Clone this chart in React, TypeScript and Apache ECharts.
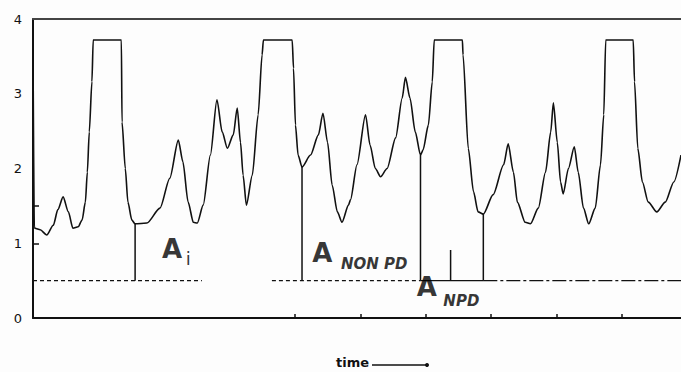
import React, { useEffect, useRef } from "react";
import * as echarts from "echarts";

// time axis positions of the traced signal
const timePoints = [
  0, 0.02, 0.03, 0.11, 0.21, 0.31, 0.38, 0.46, 0.54, 0.61, 0.69, 0.75, 0.8, 0.83, 0.86, 0.9, 0.92,
  1.35, 1.36, 1.41, 1.45, 1.51, 1.56, 1.74, 1.94, 2.09, 2.22, 2.29, 2.37, 2.45, 2.51, 2.6, 2.71,
  2.81, 2.89, 2.97, 3.06, 3.12, 3.17, 3.21, 3.26, 3.35, 3.44, 3.5, 3.52, 3.96, 3.98, 4.01, 4.05,
  4.11, 4.24, 4.36, 4.43, 4.5, 4.57, 4.65, 4.72, 4.82, 4.85, 4.95, 5.08, 5.15, 5.23, 5.31, 5.41,
  5.54, 5.64, 5.69, 5.76, 5.84, 5.92, 5.96, 6.04, 6.1, 6.13, 6.56, 6.57, 6.65, 6.73, 6.8, 6.88,
  7.03, 7.19, 7.26, 7.34, 7.4, 7.52, 7.6, 7.72, 7.83, 7.91, 7.95, 8.01, 8.06, 8.1, 8.18, 8.27,
  8.33, 8.41, 8.49, 8.59, 8.67, 8.72, 8.75, 9.17, 9.19, 9.24, 9.31, 9.4, 9.53, 9.66, 9.79, 9.9,
];
// signal values at those times
const signalValues = [
  3.6, 1.22, 1.2, 1.18, 1.11, 1.24, 1.45, 1.62, 1.42, 1.2, 1.22, 1.31, 1.55, 1.95, 2.49, 3.16, 3.72,
  3.72, 2.62, 2.0, 1.55, 1.31, 1.26, 1.27, 1.47, 1.87, 2.38, 2.09, 1.55, 1.28, 1.27, 1.51, 2.18,
  2.92, 2.49, 2.27, 2.45, 2.81, 2.35, 1.91, 1.51, 1.91, 2.72, 3.52, 3.72, 3.72, 3.34, 2.58, 2.18,
  2.02, 2.18, 2.45, 2.74, 2.35, 1.78, 1.42, 1.28, 1.51, 1.58, 2.05, 2.72, 2.31, 2.0, 1.89, 2.0,
  2.41, 2.94, 3.22, 2.94, 2.49, 2.18, 2.25, 2.58, 3.16, 3.72, 3.72, 3.52, 2.27, 1.69, 1.42, 1.39,
  1.65, 2.05, 2.33, 1.95, 1.55, 1.28, 1.26, 1.47, 1.95, 2.49, 2.88, 2.35, 1.82, 1.66, 2.0, 2.29,
  1.95, 1.47, 1.26, 1.47, 2.05, 2.72, 3.72, 3.72, 3.16, 2.27, 1.82, 1.55, 1.42, 1.55, 1.82, 2.18,
];

const baselineLevel = 0.5;
// vertical drop lines: time and the signal value they start from
const dropTimes = [1.56, 4.11, 5.92, 6.38, 6.88];
const dropTops = [1.26, 2.02, 2.18, 0.91, 1.39];
// baseline pieces: start, end, style
const baselineStarts = [0, 3.65, 5.92, 6.88];
const baselineEnds = [2.58, 5.92, 6.88, 9.9];
const baselineStyles = ["dashed", "dashed", "solid", "dashdot"];

const yTickLabels = [0, 1, 2, 3, 4];
const xTickValues = [4, 5, 6, 7, 8, 9];
const yTickValues = [1, 1.5];

// annotation texts
const labelTexts = ["A", "i", "A", "NON PD", "A", "NPD"];
const labelKinds = ["big", "subI", "big", "sub", "big", "sub"];
const labelTimes = [2.125, 2.37, 4.419, 5.214, 6.017, 6.544];
const labelLevels = [0.923, 0.79, 0.876, 0.729, 0.415, 0.221];

const X_MAX = 9.9;

export default function App() {
  const ref = useRef<HTMLDivElement>(null);

  useEffect(() => {
    document.body.style.margin = "0";
    if (!ref.current) return;
    const chart = echarts.init(ref.current, null, { renderer: "svg" });

    const dashMap: Record<string, any> = {
      dashed: [4, 3],
      solid: "solid",
      dashdot: [14, 3, 3, 3],
    };

    const baselineSeries = baselineStarts.map((s, i) => ({
      type: "line",
      data: [
        [s, baselineLevel],
        [baselineEnds[i], baselineLevel],
      ],
      showSymbol: false,
      silent: true,
      lineStyle: { color: "#111", width: 1.4, type: dashMap[baselineStyles[i]] },
      z: 2,
    }));

    const dropSeries = dropTimes.map((t, i) => ({
      type: "line",
      data: [
        [t, dropTops[i]],
        [t, baselineLevel],
      ],
      showSymbol: false,
      silent: true,
      lineStyle: { color: "#111", width: 1.5 },
      z: 3,
    }));

    const styleFor = (kind: string) => {
      if (kind === "big")
        return { fontSize: 26, fontWeight: "bold", fontFamily: "DejaVu Sans" };
      if (kind === "subI")
        return { fontSize: 18, fontWeight: "normal", fontFamily: "DejaVu Sans" };
      return {
        fontSize: 15,
        fontWeight: "bold",
        fontStyle: "italic",
        fontFamily: "DejaVu Sans",
      };
    };

    const labelData = labelTexts.map((txt, i) => ({
      value: [labelTimes[i], labelLevels[i]],
      label: {
        show: true,
        formatter: txt,
        position: "inside",
        align: "center",
        verticalAlign: "middle",
        color: "#000",
        textBorderWidth: 0,
        ...styleFor(labelKinds[i]),
      },
    }));

    chart.setOption({
      animation: false,
      backgroundColor: "#fdfdfd",
      grid: { left: 33, right: 0, top: 19, bottom: 54 },
      xAxis: [
        {
          type: "value",
          min: 0,
          max: X_MAX,
          axisLine: { show: true, lineStyle: { color: "#111", width: 2 } },
          axisTick: {
            show: true,
            inside: true,
            length: 4,
            customValues: xTickValues,
            lineStyle: { color: "#111", width: 1.5 },
          },
          axisLabel: { show: false },
          splitLine: { show: false },
        },
        {
          type: "value",
          position: "top",
          min: 0,
          max: X_MAX,
          axisLine: { show: true, onZero: false, lineStyle: { color: "#444", width: 2 } },
          axisTick: { show: false },
          axisLabel: { show: false },
          splitLine: { show: false },
        },
      ],
      yAxis: {
        type: "value",
        min: 0,
        max: 4,
        interval: 1,
        axisLine: { show: true, lineStyle: { color: "#111", width: 2 } },
        axisTick: {
          show: true,
          inside: true,
          length: 6,
          customValues: yTickValues,
          lineStyle: { color: "#111", width: 1.5 },
        },
        axisLabel: {
          customValues: yTickLabels,
          margin: 11,
          color: "#111",
          fontSize: 13,
          fontFamily: "DejaVu Sans",
        },
        splitLine: { show: false },
      },
      series: [
        {
          type: "line",
          data: timePoints.map((t, i) => [t, signalValues[i]]),
          showSymbol: false,
          silent: true,
          smooth: 0.25,
          smoothMonotone: "x",
          lineStyle: { color: "#111", width: 1.6 },
          z: 4,
        },
        ...baselineSeries,
        ...dropSeries,
        {
          type: "scatter",
          symbolSize: 0,
          silent: true,
          itemStyle: { color: "#000" },
          data: labelData,
          z: 5,
        },
      ],
      graphic: [
        {
          type: "text",
          left: 336,
          top: 356,
          style: {
            text: "time",
            fontSize: 13,
            fontWeight: "bold",
            fontFamily: "DejaVu Sans",
            fill: "#111",
          },
        },
        {
          type: "line",
          shape: { x1: 372, y1: 365, x2: 427, y2: 365 },
          style: { stroke: "#111", lineWidth: 1.5 },
        },
        {
          type: "circle",
          shape: { cx: 427, cy: 365, r: 2 },
          style: { fill: "#111" },
        },
      ],
    });

    return () => chart.dispose();
  }, []);

  return <div ref={ref} style={{ width: 681, height: 372 }} />;
}
